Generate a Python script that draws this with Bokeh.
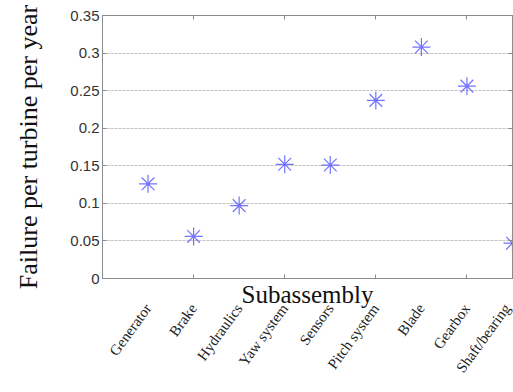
import math
from bokeh.plotting import figure
from bokeh.models import Range1d, FixedTicker, LinearAxis
from bokeh.embed import file_html
from bokeh.resources import INLINE

# Failure rates per subassembly (failures per turbine per year)
subassemblies = ["Generator", "Brake", "Hydraulics", "Yaw system", "Sensors",
                 "Pitch system", "Blade", "Gearbox", "Shaft/bearing"]
failure_rate = [0.126, 0.056, 0.097, 0.152, 0.151, 0.237, 0.308, 0.256, 0.047]

y_ticks = [0, 0.05, 0.1, 0.15, 0.2, 0.25, 0.3, 0.35]
y_tick_labels = ["0", "0.05", "0.1", "0.15", "0.2", "0.25", "0.3", "0.35"]
x_ticks = [2, 4, 6, 8]

positions = list(range(1, len(subassemblies) + 1))

SERIF = "Liberation Serif"
SANS = "Liberation Sans"
FRAME = "#8c8c8c"

p = figure(width=513, height=392, output_backend="svg", toolbar_location=None,
           x_range=Range1d(0, 9), y_range=Range1d(0, 0.35),
           min_border_left=102, min_border_right=1,
           min_border_top=15, min_border_bottom=114)

p.outline_line_color = FRAME
p.background_fill_color = "white"
p.border_fill_color = "white"

# grid: horizontal only
p.xgrid.visible = False
p.ygrid.ticker = FixedTicker(ticks=y_ticks)
p.ygrid.grid_line_color = "#c2c2c2"
p.ygrid.grid_line_dash = "3 1"

# bottom axis nearest the frame: inward tick marks only
xa = p.xaxis[0]
xa.ticker = FixedTicker(ticks=x_ticks)
xa.major_label_text_font_size = "0px"
xa.major_label_text_color = None
xa.major_label_standoff = 0
xa.major_tick_in = 4
xa.major_tick_out = 0
xa.minor_tick_line_color = None
xa.axis_line_color = FRAME
xa.major_tick_line_color = FRAME

# second bottom axis: rotated subassembly names and the axis title
names = LinearAxis(ticker=FixedTicker(ticks=positions),
                   major_label_overrides={pos: n for pos, n in zip(positions, subassemblies)},
                   major_label_orientation=math.radians(54),
                   major_label_text_font=SERIF, major_label_text_font_size="15px",
                   major_label_text_color="#222222", major_label_standoff=21,
                   major_tick_line_color=None, minor_tick_line_color=None,
                   axis_line_color=None,
                   axis_label="Subassembly", axis_label_text_font=SERIF,
                   axis_label_text_font_size="25px", axis_label_text_font_style="normal",
                   axis_label_text_color="#111111", axis_label_standoff=-102)
p.add_layout(names, "below")

# y axis
ya = p.yaxis[0]
ya.ticker = FixedTicker(ticks=y_ticks)
ya.major_label_overrides = {t: s for t, s in zip(y_ticks, y_tick_labels)}
ya.major_label_text_font = SANS
ya.major_label_text_font_size = "15px"
ya.major_label_text_color = "#333333"
ya.major_label_standoff = 3
ya.major_tick_in = 4
ya.major_tick_out = 0
ya.minor_tick_line_color = None
ya.axis_line_color = FRAME
ya.major_tick_line_color = FRAME
ya.axis_label = "Failure per turbine per year"
ya.axis_label_text_font = SERIF
ya.axis_label_text_font_size = "26px"
ya.axis_label_text_font_style = "normal"
ya.axis_label_text_color = "#111111"
ya.axis_label_standoff = 24

# mirrored ticks on top and right edges of the box
top = LinearAxis(ticker=FixedTicker(ticks=x_ticks), major_label_text_font_size="0px",
                 major_label_text_color=None, major_label_standoff=0,
                 major_tick_in=4, major_tick_out=0, minor_tick_line_color=None,
                 axis_line_color=FRAME, major_tick_line_color=FRAME)
right = LinearAxis(ticker=FixedTicker(ticks=y_ticks), major_label_text_font_size="0px",
                   major_label_text_color=None, major_label_standoff=0,
                   major_tick_in=4, major_tick_out=0, minor_tick_line_color=None,
                   axis_line_color=FRAME, major_tick_line_color=FRAME)
p.add_layout(top, "above")
p.add_layout(right, "right")

# failure-rate markers
p.scatter(positions, failure_rate, marker="asterisk", size=18,
          line_color="#5a5aff", line_width=1.2, line_alpha=0.85)

open("out.html", "w").write(file_html(p, INLINE))
